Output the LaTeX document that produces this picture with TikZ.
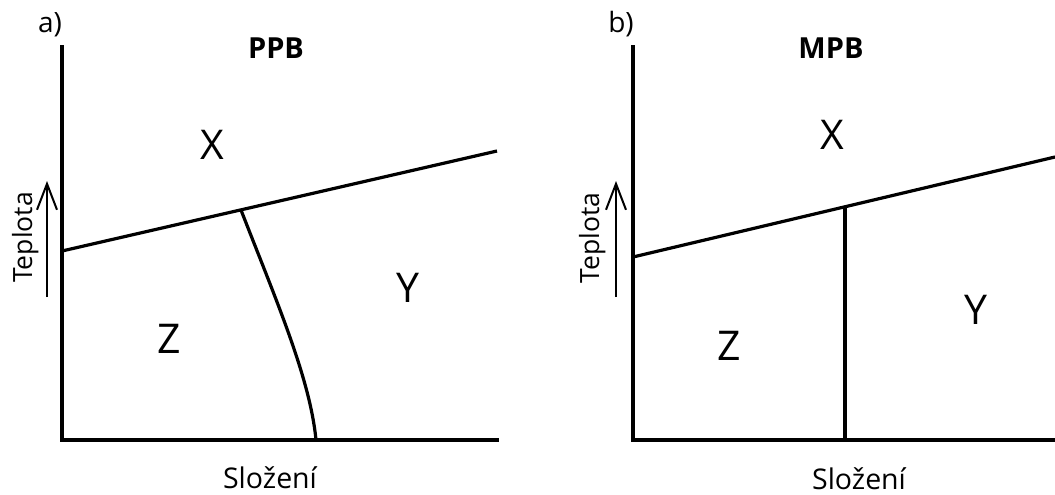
\documentclass[tikz,border=0pt]{standalone}
\usepackage{fontspec}
\setmainfont{Open Sans}
\usetikzlibrary{arrows.meta}
\begin{document}
\begin{tikzpicture}[x=1pt,y=-1pt,
  axis/.style={line width=3.6pt,line cap=rect},
  bound/.style={line width=3.2pt},
  tarrow/.style={line width=2pt,-{Straight Barb[length=26pt,width=20pt,line width=2pt]}},
  lbl/.style={font=\fontsize{28}{32}\selectfont,inner sep=0pt,anchor=base},
  phase/.style={font=\fontsize{41}{45}\selectfont,inner sep=0pt},
  ttl/.style={font=\bfseries\fontsize{29}{33}\selectfont,inner sep=0pt},
  axlbl/.style={font=\fontsize{28.5}{32}\selectfont,inner sep=0pt,anchor=base},
  tlbl/.style={font=\fontsize{26.5}{30}\selectfont,inner sep=0pt,anchor=base,rotate=90}]
\useasboundingbox (0,0) rectangle (1055,495);
% panel a
\coordinate (aTop) at (62,47);
\coordinate (aO) at (62,440);
\coordinate (aR) at (497,440);
\coordinate (aL1) at (62,251);
\coordinate (aL2) at (497,151);
\coordinate (aJ) at (241,210);
\coordinate (aB) at (316,440);
\draw[axis] (aTop) -- (aO) -- (aR);
\draw[bound] (aL1) -- (aL2);
\draw[bound] (aJ) .. controls (276,300) and (310,378) .. (aB);
\coordinate (aA1) at (47,297);
\coordinate (aA2) at (47,181);
\draw[tarrow] (aA1) -- (aA2);
\node[lbl] (aLab) at (50,33) {a)};
\node[ttl] (aT) at (276,48.5) {PPB};
\node[phase] (aX) at (212,145) {X};
\node[phase] (aZ) at (169,339) {Z};
\node[phase] (aY) at (408,288) {Y};
\node[tlbl] (aTep) at (32,237.5) {Teplota};
\node[axlbl] (aS) at (270,488) {Složení};
% panel b
\coordinate (bTop) at (633,47);
\coordinate (bO) at (633,440);
\coordinate (bR) at (1055,440);
\coordinate (bL1) at (633,257);
\coordinate (bL2) at (1055,157);
\coordinate (bJ) at (845,208);
\coordinate (bB) at (845,440);
\draw[axis] (bTop) -- (bO) -- (bR);
\draw[bound] (bL1) -- (bL2);
\draw[bound] (bJ) -- (bB);
\coordinate (bA1) at (616,297);
\coordinate (bA2) at (616,181);
\draw[tarrow] (bA1) -- (bA2);
\node[lbl] (bLab) at (621,33) {b)};
\node[ttl] (bT) at (831,48.5) {MPB};
\node[phase] (bX) at (832,135) {X};
\node[phase] (bZ) at (729,346) {Z};
\node[phase] (bY) at (976,310) {Y};
\node[tlbl] (bTep) at (599,238) {Teplota};
\node[axlbl] (bS) at (859,489) {Složení};
\end{tikzpicture}
\end{document}
